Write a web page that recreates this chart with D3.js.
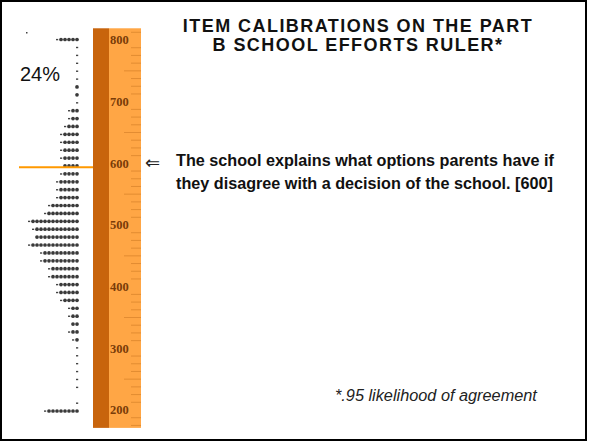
<!DOCTYPE html>
<html>
<meta charset=utf-8>
<head>
  <style>
    body { margin: 0; background: #fff; }
    text { font-family: "Liberation Sans", Arial, sans-serif; }
  </style>
</head>
<body>
  <svg id="canvas" width="589" height="444"></svg>
  <script src="https://d3js.org/d3.v7.min.js"></script>
  <script>

  // ruler labels
  var rulerTicks = [800, 700, 600, 500, 400, 300, 200];

  // histogram rows, top (800) to bottom (200): number of '#' and whether a '.' follows
  var hashes = [5,0,0,0,0,0,1,1,0,2,2,3,4,4,4,4,4,4,5,5,5,7,8,12,11,11,12,9,9,7,7,5,5,4,2,2,2,2,1,0,0,0,0,0,0,0,0,8];
  var dots   = [1,1,1,1,1,1,0,0,1,1,1,1,1,1,1,1,0,1,1,1,1,1,1,1,1,0,1,1,1,1,1,1,1,1,1,1,0,1,1,1,1,1,1,1,1,0,1,1];

  var itemValue = 600;
  var itemText = ['The school explains what options parents have if',
                  'they disagree with a decision of the school. [600]'];
  var titleLines = ['ITEM CALIBRATIONS ON THE PART', 'B SCHOOL EFFORTS RULER*'];

  var svg = d3.select('#canvas');

  var y = d3.scaleLinear().domain([200, 800]).range([410, 40]);
  var rowY = d3.scalePoint().domain(d3.range(hashes.length)).range([39.5, 411]);
  var cellX = d3.scaleLinear().domain([0, 12]).range([77, 29]);

  // frame
  svg.append('rect')
    .attr('x', 1).attr('y', 1).attr('width', 585).attr('height', 439)
    .attr('fill', 'none').attr('stroke', '#000').attr('stroke-width', 2);

  // ruler
  var rTop = y(819), rBot = y(171);
  svg.append('rect').attr('x', 93).attr('y', rTop).attr('width', 16).attr('height', rBot - rTop)
    .attr('fill', '#c8640c');
  svg.append('rect').attr('x', 109).attr('y', rTop).attr('width', 32).attr('height', rBot - rTop)
    .attr('fill', '#ffa645');

  var minor = d3.range(175, 820, 12.5);
  svg.append('g').selectAll('line')
    .data(minor)
    .enter().append('line')
    .attr('x1', function(d) { return d % 50 == 0 ? 124 : 131 })
    .attr('x2', 141)
    .attr('y1', function(d) { return y(d) })
    .attr('y2', function(d) { return y(d) })
    .attr('stroke', '#e08a30')
    .attr('stroke-width', 1)
    .attr('opacity', function(d) { return d % 100 == 0 ? 0 : 0.9 });

  svg.append('g').selectAll('text')
    .data(rulerTicks)
    .enter().append('text')
    .attr('x', 110)
    .attr('y', function(d) { return y(d) })
    .attr('dy', '0.35em')
    .style('font-family', '"Liberation Serif", serif')
    .attr('font-size', 12.5)
    .attr('font-weight', 'bold')
    .attr('fill', '#7a3c08')
    .text(function(d) { return d });

  // histogram
  var rows = svg.append('g').selectAll('g')
    .data(hashes)
    .enter().append('g')
    .attr('transform', function(d, i) { return 'translate(0,' + rowY(i) + ')' });

  rows.selectAll('circle')
    .data(function(d) { return d3.range(d) })
    .enter().append('circle')
    .attr('cx', function(k) { return cellX(k) })
    .attr('cy', 0)
    .attr('r', 1.85)
    .attr('fill', '#3a3a3a');

  rows.filter(function(d, i) { return dots[i] })
    .append('rect')
    .attr('x', function(d) { return cellX(d) - 1 })
    .attr('y', -0.6)
    .attr('width', 2.2)
    .attr('height', 1.4)
    .attr('fill', '#444');

  // stray mark top left
  svg.append('rect').attr('x', 26).attr('y', 32).attr('width', 1.5).attr('height', 1.5).attr('fill', '#444');

  svg.append('text').attr('x', 20).attr('y', 81)
    .attr('font-size', 20).attr('fill', '#111').text('24%');

  // item marker
  svg.append('line')
    .attr('x1', 19).attr('x2', 93)
    .attr('y1', y(itemValue) + 4).attr('y2', y(itemValue) + 4)
    .attr('stroke', '#ff9900').attr('stroke-width', 2);

  svg.append('text').attr('x', 145).attr('y', y(itemValue) + 6)
    .style('font-family', '"DejaVu Sans", sans-serif')
    .attr('font-size', 18).attr('fill', '#222').text('\u21d0');

  svg.append('g').selectAll('text')
    .data(itemText)
    .enter().append('text')
    .attr('x', 176)
    .attr('y', function(d, i) { return 166 + i * 23 })
    .attr('font-size', 16.2)
    .attr('font-weight', 'bold')
    .attr('fill', '#111')
    .text(function(d) { return d });

  // title
  svg.append('g').selectAll('text')
    .data(titleLines)
    .enter().append('text')
    .attr('x', 358)
    .attr('y', function(d, i) { return 32 + i * 19 })
    .attr('text-anchor', 'middle')
    .attr('font-size', 18)
    .attr('font-weight', 'bold')
    .attr('letter-spacing', 1.45)
    .attr('fill', '#111')
    .text(function(d) { return d });

  svg.append('text').attr('x', 335).attr('y', 401)
    .attr('font-size', 16.3).attr('font-style', 'italic').attr('fill', '#222')
    .text('*.95 likelihood of agreement');

  </script>
</body>
</html>
